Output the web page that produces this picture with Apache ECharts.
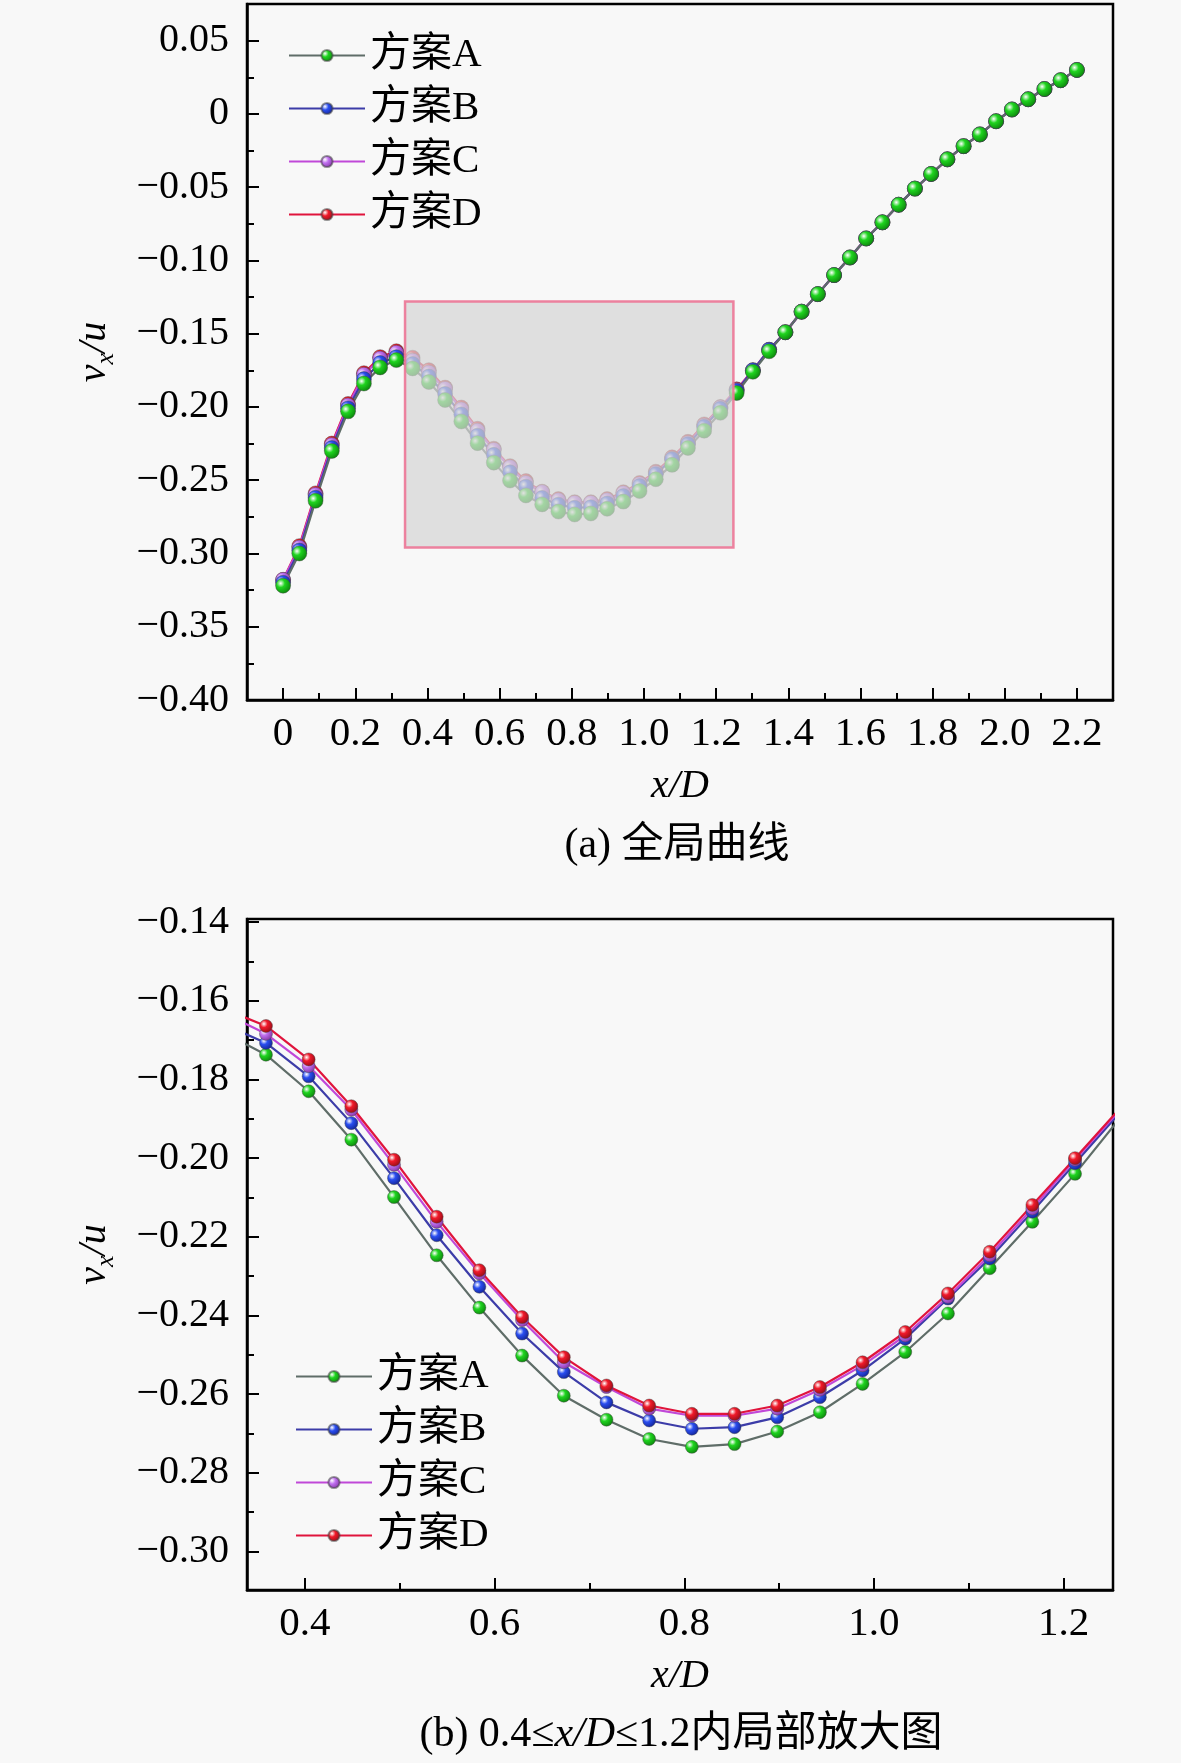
<!DOCTYPE html>
<html>
<head>
<meta charset="utf-8">
<script src="https://cdn.jsdelivr.net/npm/echarts@6/dist/echarts.min.js"></script>
<style>
  html, body { margin: 0; padding: 0; background: #f8f8f8; }
  #chart { width: 1181px; height: 1763px; }
</style>
</head>
<body>
<div id="chart"></div>
<script>
// x/D sample positions (50 points, 0 .. 2.2)
var xD = [0, 0.045, 0.090, 0.135, 0.180, 0.224, 0.269, 0.314, 0.359, 0.404,
          0.449, 0.494, 0.539, 0.584, 0.629, 0.673, 0.718, 0.763, 0.808, 0.853,
          0.898, 0.943, 0.988, 1.033, 1.078, 1.122, 1.167, 1.212, 1.257, 1.302,
          1.347, 1.392, 1.437, 1.482, 1.527, 1.571, 1.616, 1.661, 1.706, 1.751,
          1.796, 1.841, 1.886, 1.931, 1.976, 2.020, 2.065, 2.110, 2.155, 2.200];

// vx/u
var schemeA = [-0.322, -0.300, -0.264, -0.230, -0.203, -0.184, -0.173, -0.168,
               -0.1737, -0.1830, -0.1953, -0.2099, -0.2247, -0.2380, -0.2502, -0.2604, -0.2665, -0.2714,
               -0.2734, -0.2727, -0.2695, -0.2646, -0.2574, -0.2493, -0.2395, -0.2280, -0.2162, -0.2040,
               -0.1905, -0.176, -0.162, -0.149, -0.135, -0.123, -0.110, -0.098, -0.085, -0.074,
               -0.062, -0.051, -0.041, -0.031, -0.022, -0.014, -0.005, 0.003, 0.010, 0.017, 0.023, 0.030];
var schemeB = [-0.320, -0.298, -0.262, -0.228, -0.201, -0.181, -0.170, -0.166,
               -0.1707, -0.1792, -0.1911, -0.2051, -0.2196, -0.2327, -0.2446, -0.2544, -0.2621, -0.2667,
               -0.2688, -0.2684, -0.2659, -0.2608, -0.2540, -0.2459, -0.2357, -0.2255, -0.2136, -0.2013,
               -0.1890, -0.175, -0.161, -0.149, -0.135, -0.123, -0.110, -0.098, -0.085, -0.074,
               -0.062, -0.051, -0.041, -0.031, -0.022, -0.014, -0.005, 0.003, 0.010, 0.017, 0.023, 0.030];
var schemeC = [-0.318, -0.296, -0.260, -0.226, -0.199, -0.178, -0.167, -0.163,
               -0.1684, -0.1766, -0.1877, -0.2017, -0.2162, -0.2293, -0.2412, -0.2519, -0.2582, -0.2637,
               -0.2655, -0.2655, -0.2637, -0.2589, -0.2527, -0.2451, -0.2353, -0.2247, -0.2128, -0.2004,
               -0.1884, -0.175, -0.161, -0.149, -0.135, -0.123, -0.110, -0.098, -0.085, -0.074,
               -0.062, -0.051, -0.041, -0.031, -0.022, -0.014, -0.005, 0.003, 0.010, 0.017, 0.023, 0.030];
var schemeD = [-0.318, -0.295, -0.259, -0.225, -0.198, -0.177, -0.166, -0.162,
               -0.1664, -0.1749, -0.1868, -0.2004, -0.2149, -0.2285, -0.2404, -0.2506, -0.2578, -0.2629,
               -0.2650, -0.2650, -0.2629, -0.2582, -0.2519, -0.2442, -0.2344, -0.2238, -0.2119, -0.2000,
               -0.1880, -0.175, -0.161, -0.149, -0.135, -0.123, -0.110, -0.098, -0.085, -0.074,
               -0.062, -0.051, -0.041, -0.031, -0.022, -0.014, -0.005, 0.003, 0.010, 0.017, 0.023, 0.030];

var seriesNames = ['方案A', '方案B', '方案C', '方案D'];

// tick values
var xTicksFull = [0, 0.2, 0.4, 0.6, 0.8, 1.0, 1.2, 1.4, 1.6, 1.8, 2.0, 2.2];
var xMinorFull = [0.1, 0.3, 0.5, 0.7, 0.9, 1.1, 1.3, 1.5, 1.7, 1.9, 2.1];
var yTicksFull = [0.05, 0, -0.05, -0.10, -0.15, -0.20, -0.25, -0.30, -0.35, -0.40];
var yMinorFull = [0.025, -0.025, -0.075, -0.125, -0.175, -0.225, -0.275, -0.325, -0.375];
var xTicksZoom = [0.4, 0.6, 0.8, 1.0, 1.2];
var xMinorZoom = [0.5, 0.7, 0.9, 1.1];
var yTicksZoom = [-0.14, -0.16, -0.18, -0.20, -0.22, -0.24, -0.26, -0.28, -0.30];
var yMinorZoom = [-0.15, -0.17, -0.19, -0.21, -0.23, -0.25, -0.27, -0.29];

// zoom window drawn on the full view: x1, y1, x2, y2
var zoomBox = [0.338, -0.128, 1.248, -0.296];

var lineColors = ['#5f6d68', '#3c3ca8', '#c048d8', '#e0143c'];
var ballColors = ['#1fd41f', '#2a4ef0', '#c070f0', '#f01a2a'];
var ballDark = ['#0a7a0a', '#101e8a', '#7a2c9a', '#8a0a14'];

var serif = '"Liberation Serif", "Times New Roman", serif';
var cjk = '"Liberation Serif", "Noto Sans CJK SC", serif';

function pairs(ys) {
  return xD.map(function (x, i) { return [x, ys[i]]; });
}

function ball(i) {
  return new echarts.graphic.RadialGradient(0.35, 0.35, 0.75, [
    { offset: 0, color: '#ffffff' },
    { offset: 0.35, color: ballColors[i] },
    { offset: 1, color: ballDark[i] }
  ]);
}

function yFmt(v) {
  if (Math.abs(v) < 1e-9) return '0';
  var s = Math.abs(v).toFixed(2);
  return v < 0 ? '\u2212' + s : s;
}
function xFmt(v) {
  if (Math.abs(v) < 1e-9) return '0';
  return v.toFixed(1);
}

var allData = [schemeA, schemeB, schemeC, schemeD];

function makeSeries(i, axisIdx, size) {
  return {
    name: seriesNames[i],
    type: 'line',
    xAxisIndex: axisIdx,
    yAxisIndex: axisIdx * 2,
    data: pairs(allData[i]),
    symbol: 'circle',
    symbolSize: size,
    showAllSymbol: true,
    lineStyle: { color: lineColors[i], width: 2.2 },
    itemStyle: { color: ball(i), borderColor: 'rgba(70,70,70,0.55)', borderWidth: 0.8 },
    emphasis: { disabled: true },
    animation: false
  };
}

function mainX(grid, min, max, ticks) {
  return {
    type: 'value', gridIndex: grid, min: min, max: max, position: 'bottom',
    name: '{i|x/D}', nameLocation: 'middle', nameGap: 66,
    nameTextStyle: {
      rich: {
        i: { fontFamily: serif, fontStyle: 'italic', fontSize: 40, color: '#000' }
      }
    },
    axisLine: { show: true, onZero: false, lineStyle: { color: '#000', width: 2.5 } },
    axisTick: { show: true, inside: true, length: 12, lineStyle: { color: '#000', width: 2 }, customValues: ticks },
    axisLabel: { show: true, customValues: ticks, formatter: xFmt, margin: 14,
                 fontFamily: serif, fontSize: 41, color: '#000' },
    splitLine: { show: false }
  };
}
function minorX(grid, min, max, ticks) {
  return {
    type: 'value', gridIndex: grid, min: min, max: max, position: 'bottom',
    axisLine: { show: false, onZero: false },
    axisTick: { show: true, inside: true, length: 7, lineStyle: { color: '#000', width: 2 }, customValues: ticks },
    axisLabel: { show: false, customValues: ticks },
    splitLine: { show: false }
  };
}
function mainY(grid, min, max, ticks) {
  return {
    type: 'value', gridIndex: grid, min: min, max: max, position: 'left',
    name: '{i|v}{s|x}{i|/u}', nameLocation: 'middle', nameGap: 128,
    nameTextStyle: {
      rich: {
        i: { fontFamily: serif, fontStyle: 'italic', fontSize: 40, lineHeight: 50, color: '#000' },
        s: { fontFamily: serif, fontStyle: 'italic', fontSize: 26, lineHeight: 26, verticalAlign: 'bottom', color: '#000' }
      }
    },
    axisLine: { show: true, onZero: false, lineStyle: { color: '#000', width: 2.5 } },
    axisTick: { show: true, inside: true, length: 12, lineStyle: { color: '#000', width: 2 }, customValues: ticks },
    axisLabel: { show: true, customValues: ticks, formatter: yFmt, margin: 18,
                 fontFamily: serif, fontSize: 40, color: '#000' },
    splitLine: { show: false }
  };
}
function minorY(grid, min, max, ticks) {
  return {
    type: 'value', gridIndex: grid, min: min, max: max, position: 'left',
    axisLine: { show: false, onZero: false },
    axisTick: { show: true, inside: true, length: 7, lineStyle: { color: '#000', width: 2 }, customValues: ticks },
    axisLabel: { show: false, customValues: ticks },
    splitLine: { show: false }
  };
}

var chart = echarts.init(document.getElementById('chart'), null, { renderer: 'canvas' });

var series = [];
// full view: A drawn last so it sits on top
[3, 2, 1, 0].forEach(function (i) { series.push(makeSeries(i, 0, 15)); });
// zoomed view
[0, 1, 2, 3].forEach(function (i) { series.push(makeSeries(i, 1, 13)); });
// grey window on the full view
series.push({
  type: 'line', name: 'zoomWindow', xAxisIndex: 0, yAxisIndex: 0, data: [], silent: true,
  markArea: {
    silent: true, z: 6,
    itemStyle: { color: 'rgba(214,214,214,0.72)', borderColor: 'rgba(236,118,150,0.9)', borderWidth: 2.5 },
    data: [[{ coord: [zoomBox[0], zoomBox[1]] }, { coord: [zoomBox[2], zoomBox[3]] }]]
  }
});

var legendBase = {
  orient: 'vertical', data: seriesNames, itemWidth: 76, itemHeight: 14, itemGap: 12,
  textStyle: { fontFamily: cjk, fontSize: 41, color: '#000' },
  selectedMode: false
};

var option = {
  backgroundColor: '#f8f8f8',
  animation: false,
  title: [
    { text: '(a) 全局曲线', left: 672, top: 820, textAlign: 'center',
      textStyle: { fontFamily: cjk, fontSize: 42, fontWeight: 'normal', color: '#000' } },
    { text: '{n|(b) 0.4≤}{i|x/D}{n|≤1.2内局部放大图}', left: 676, top: 1709, textAlign: 'center',
      textStyle: { fontWeight: 'normal', rich: {
        n: { fontFamily: cjk, fontSize: 42, fontWeight: 'normal', color: '#000' },
        i: { fontFamily: serif, fontStyle: 'italic', fontSize: 42, fontWeight: 'normal', color: '#000' }
      } } }
  ],
  legend: [
    Object.assign({}, legendBase, { left: 283, top: 30 }),
    Object.assign({}, legendBase, { left: 290, top: 1351 })
  ],
  grid: [
    { left: 247, top: 4, width: 866, height: 696, show: true, borderColor: '#000', borderWidth: 2.5, backgroundColor: 'transparent' },
    { left: 247, top: 919, width: 866, height: 671, show: true, borderColor: '#000', borderWidth: 2.5, backgroundColor: 'transparent' }
  ],
  xAxis: [
    mainX(0, -0.1, 2.3, xTicksFull),
    mainX(1, 0.339, 1.252, xTicksZoom),
    minorX(0, -0.1, 2.3, xMinorFull),
    minorX(1, 0.339, 1.252, xMinorZoom)
  ],
  yAxis: [
    mainY(0, -0.40, 0.075, yTicksFull),
    minorY(0, -0.40, 0.075, yMinorFull),
    mainY(1, -0.3098, -0.1392, yTicksZoom),
    minorY(1, -0.3098, -0.1392, yMinorZoom)
  ],
  series: series
};

chart.setOption(option);
</script>
</body>
</html>
